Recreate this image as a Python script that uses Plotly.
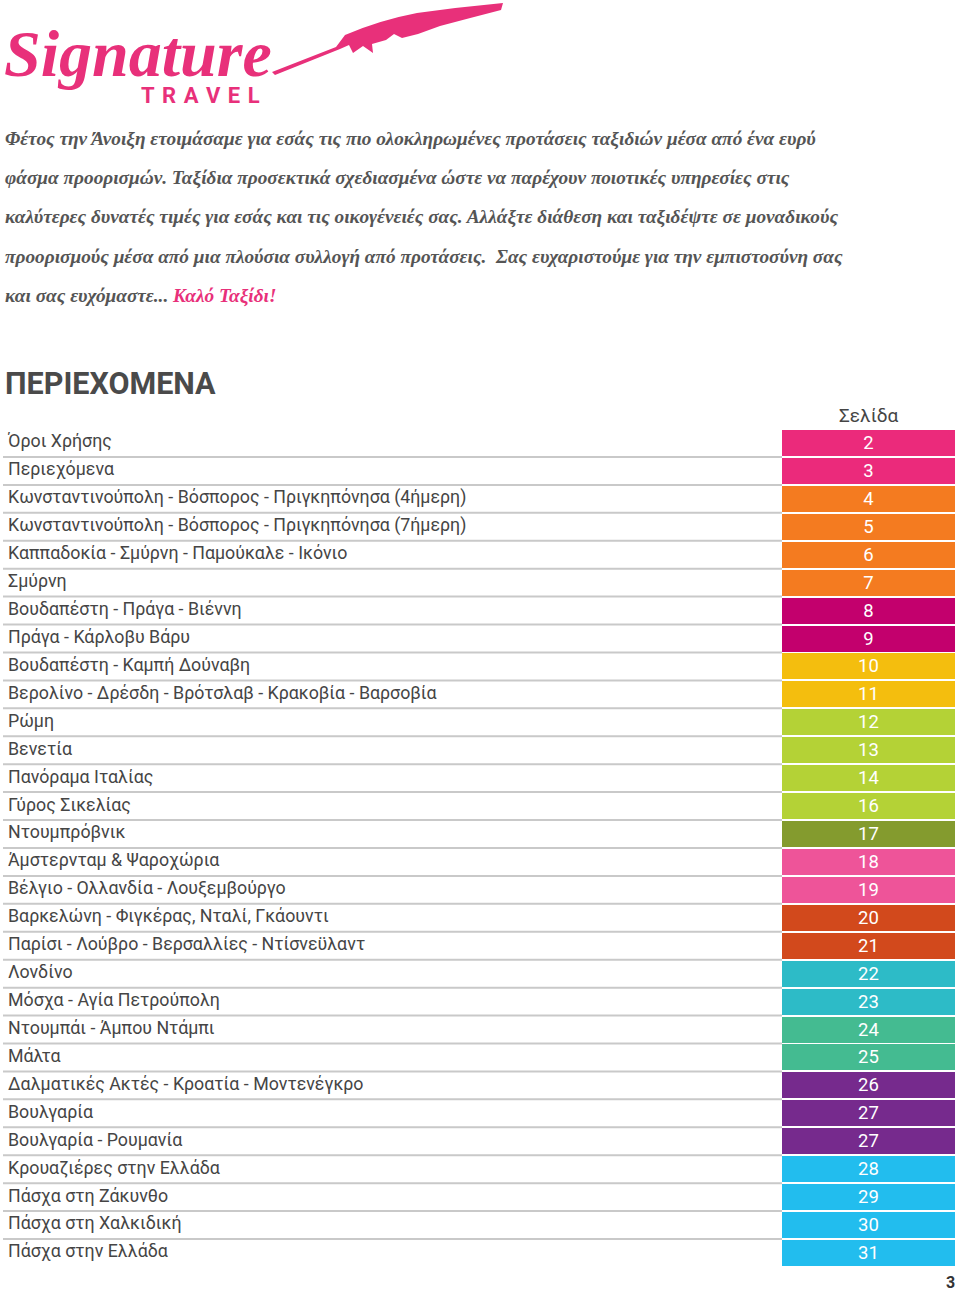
import plotly.graph_objects as go

# ---------------- data ----------------
labels = [
    "Όροι Χρήσης",
    "Περιεχόμενα",
    "Κωνσταντινούπολη - Βόσπορος - Πριγκηπόνησα (4ήμερη)",
    "Κωνσταντινούπολη - Βόσπορος - Πριγκηπόνησα (7ήμερη)",
    "Καππαδοκία - Σμύρνη - Παμούκαλε - Ικόνιο",
    "Σμύρνη",
    "Βουδαπέστη - Πράγα - Βιέννη",
    "Πράγα - Κάρλοβυ Βάρυ",
    "Βουδαπέστη - Καμπή Δούναβη",
    "Βερολίνο - Δρέσδη - Βρότσλαβ - Κρακοβία - Βαρσοβία",
    "Ρώμη",
    "Βενετία",
    "Πανόραμα Ιταλίας",
    "Γύρος Σικελίας",
    "Ντουμπρόβνικ",
    "Άμστερνταμ & Ψαροχώρια",
    "Βέλγιο - Ολλανδία - Λουξεμβούργο",
    "Βαρκελώνη - Φιγκέρας, Νταλί, Γκάουντι",
    "Παρίσι - Λούβρο - Βερσαλλίες - Ντίσνεϋλαντ",
    "Λονδίνο",
    "Μόσχα - Αγία Πετρούπολη",
    "Ντουμπάι - Άμπου Ντάμπι",
    "Μάλτα",
    "Δαλματικές Ακτές - Κροατία - Μοντενέγκρο",
    "Βουλγαρία",
    "Βουλγαρία - Ρουμανία",
    "Κρουαζιέρες στην Ελλάδα",
    "Πάσχα στη Ζάκυνθο",
    "Πάσχα στη Χαλκιδική",
    "Πάσχα στην Ελλάδα",
]
pages = [2, 3, 4, 5, 6, 7, 8, 9, 10, 11, 12, 13, 14, 16, 17, 18, 19, 20, 21,
         22, 23, 24, 25, 26, 27, 27, 28, 29, 30, 31]
groups = ["pink", "pink", "orange", "orange", "orange", "orange", "magenta",
          "magenta", "yellow", "yellow", "lime", "lime", "lime", "lime",
          "olive", "rose", "rose", "rust", "rust", "teal", "teal", "green",
          "green", "purple", "purple", "purple", "sky", "sky", "sky", "sky"]
group_colors = {
    "pink": "#EB2A7B", "orange": "#F47B20", "magenta": "#C3006D",
    "yellow": "#F4BE0E", "lime": "#B4D236", "olive": "#849B2E",
    "rose": "#EE5499", "rust": "#D2491C", "teal": "#2DBBC7",
    "green": "#44BB91", "purple": "#762A8D", "sky": "#22BDEE",
}
paragraph_lines = [
    "Φέτος την Άνοιξη ετοιμάσαμε για εσάς τις πιο ολοκληρωμένες προτάσεις ταξιδιών μέσα από ένα ευρύ",
    "φάσμα προορισμών. Ταξίδια προσεκτικά σχεδιασμένα ώστε να παρέχουν ποιοτικές υπηρεσίες στις",
    "καλύτερες δυνατές τιμές για εσάς και τις οικογένειές σας. Αλλάξτε διάθεση και ταξιδέψτε σε μοναδικούς",
    "προορισμούς μέσα από μια πλούσια συλλογή από προτάσεις.  Σας ευχαριστούμε για την εμπιστοσύνη σας",
    "και σας ευχόμαστε... ",
]
closing = "Καλό Ταξίδι!"
title = "ΠΕΡΙΕΧΟΜΕΝΑ"
column_header = "Σελίδα"
page_number = "3"

# ---------------- layout constants ----------------
W, H = 960, 1291
ROW0, PITCH = 443, 27.93
CELL_X0, CELL_X1 = 782, 955
TEXT_COLOR = "#454545"
PINK = "#E8307A"

rows = list(range(len(labels)))
colors = [group_colors[g] for g in groups]

fig = go.Figure()

# colored page cells
fig.add_trace(go.Bar(
    orientation="h", y=rows, x=[CELL_X1 - CELL_X0] * len(rows), base=CELL_X0,
    width=0.93, marker=dict(color=colors, line=dict(width=0)),
    text=[str(p) for p in pages], textposition="inside",
    insidetextanchor="middle", textangle=0, constraintext="none",
    textfont=dict(family="Roboto", size=18.5, color="white"),
    hoverinfo="skip", showlegend=False,
))

# item labels
fig.add_trace(go.Scatter(
    x=[8] * len(rows), y=rows, mode="text", text=labels,
    textposition="middle right",
    textfont=dict(family="Roboto", size=17.8, color=TEXT_COLOR),
    hoverinfo="skip", showlegend=False,
))

# separators
shapes = []
for i in rows[:-1]:
    shapes.append(dict(type="line", xref="x", yref="y", x0=3, x1=CELL_X0,
                       y0=i + 0.5, y1=i + 0.5,
                       line=dict(color="#C9C9C9", width=2)))

# feather (decorative) in pixel coordinates on y2
feather = ("M 272 72 L 336 47 L 345 35 Q 380 20 417 13 Q 460 7 503 3 "
           "L 501 10 Q 470 18 440 26 L 418 34 L 402 38 L 394 34 L 386 40 "
           "L 372 44 L 373 53 L 363 46 L 353 53 L 349 45 L 340 49 L 275 75 Z")
shapes.append(dict(type="path", xref="x", yref="y2", path=feather,
                   fillcolor=PINK, line=dict(width=0)))

annotations = []
# logo text
annotations.append(dict(xref="x", yref="y2", x=2, y=53, xanchor="left",
                        yanchor="middle", showarrow=False,
                        text="<b><i>Signature</i></b>",
                        font=dict(family="Liberation Serif", size=66, color=PINK)))
sp = "\u2004"
annotations.append(dict(xref="x", yref="y2", x=139, y=95, xanchor="left",
                        yanchor="middle", showarrow=False,
                        text="<b>" + sp.join("TRAVEL") + "</b>",
                        font=dict(family="Roboto", size=22, color=PINK)))

# paragraph
para_y = [139, 178, 217, 256, 296]
for k, (line, py) in enumerate(zip(paragraph_lines, para_y)):
    txt = f"<b><i>{line}</i></b>"
    if k == len(paragraph_lines) - 1:
        txt += f"<b><i><span style='color:{PINK}'>{closing}</span></i></b>"
    annotations.append(dict(xref="x", yref="y2", x=3, y=py, xanchor="left",
                            yanchor="middle", showarrow=False, text=txt,
                            font=dict(family="Liberation Serif", size=19.3,
                                      color="#555555")))

# title
annotations.append(dict(xref="x", yref="y2", x=3, y=383, xanchor="left",
                        yanchor="middle", showarrow=False,
                        text=f"<b>{title}</b>",
                        font=dict(family="Roboto", size=30.5, color="#4A4A4A")))
# column header
annotations.append(dict(xref="x", yref="y", x=(CELL_X0 + CELL_X1) / 2, y=-1,
                        xanchor="center", yanchor="middle", showarrow=False,
                        text=column_header,
                        font=dict(family="Roboto", size=19, color=TEXT_COLOR)))
# page number
annotations.append(dict(xref="x", yref="y2", x=957, y=1282, xanchor="right",
                        yanchor="middle", showarrow=False,
                        text=f"<b>{page_number}</b>",
                        font=dict(family="Roboto", size=16, color="#333333")))

y_top = (0 - ROW0) / PITCH
y_bot = (H - ROW0) / PITCH

fig.update_layout(
    width=W, height=H, margin=dict(l=0, r=0, t=0, b=0),
    paper_bgcolor="white", plot_bgcolor="white",
    xaxis=dict(range=[0, W], visible=False, fixedrange=True),
    yaxis=dict(range=[y_bot, y_top], visible=False, fixedrange=True),
    yaxis2=dict(range=[H, 0], visible=False, overlaying="y",
                fixedrange=True),
    shapes=shapes, annotations=annotations,
    bargap=0, showlegend=False, hovermode=False,
)

fig.write_html(
    "out.html",
    config={"displayModeBar": False, "staticPlot": True},
    post_script=("document.body.style.margin='0';"
                 "document.body.style.padding='0';"
                 "document.documentElement.style.overflow='hidden';"),
)
